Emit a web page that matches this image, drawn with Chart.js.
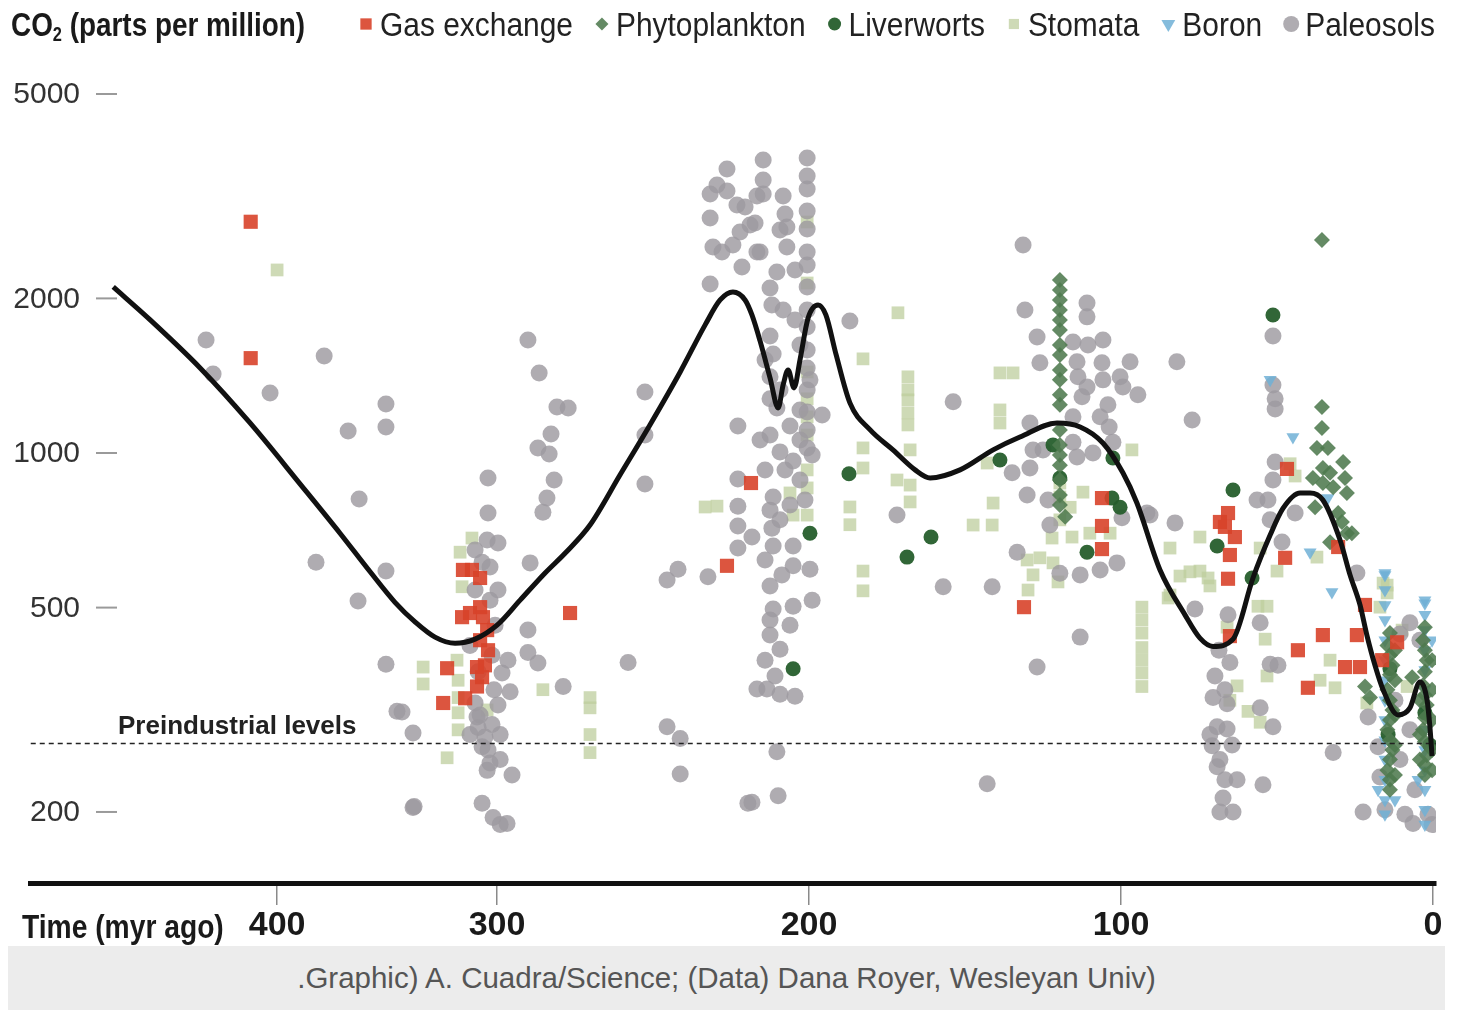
<!DOCTYPE html>
<html lang="en">
<head>
<meta charset="UTF-8">
<title>CO2 over 470 million years</title>
<script src="https://cdn.jsdelivr.net/npm/chart.js"></script>
<style>
  body { margin: 0; background: #fff; }
  #wrap { position: relative; width: 1462px; height: 1010px; }
  #credit {
    position: absolute; left: 8px; top: 946px; width: 1437px; height: 64px;
    background: #ececec; color: #555; text-align: center;
    font: 29.5px "Liberation Sans", Arial, sans-serif; line-height: 64px;
  }
</style>
</head>
<body>
<div id="wrap">
  <canvas id="co2Chart" width="1462" height="946"></canvas>
  <div id="credit">.Graphic) A. Cuadra/Science; (Data) Dana Royer, Wesleyan Univ)</div>
</div>
<script>
// [million years ago, CO2 ppm]
var gasExchange = [
  [412,2820],[412,1530],[315.5,592],[311.4,592],[307.7,571],[315.9,479],[312.3,488],[307.7,501],
  [306.4,479],[304.5,452],[307.7,432],[304.1,413],[309.1,383],[305.5,386],[322.7,381],[309.1,351],
  [324.5,326],[314.5,333],[306.8,366],[276.6,488],[226.3,603],[218.6,874],[131.1,501],[106.1,817],
  [106.1,721],[106.1,650],[68.3,734],[65.7,764],[66.7,718],[63.5,686],[65.1,633],[65.7,569],
  [65.1,440],[46.8,931],[47.4,625],[43.3,413],[40.1,349],[35.3,442],[30.4,656],[21.8,506],
  [24.4,442],[28.2,383],[23.4,383],[16.3,395],[11.5,428]
];

var phytoplankton = [
  [119.6,2172],[119.6,2077],[119.6,1986],[119.6,1899],[119.6,1816],[119.6,1736],[119.6,1623],
  [119.6,1552],[119.6,1451],[119.6,1388],[119.6,1298],[119.6,1241],[119.6,1109],[119.6,1037],
  [119.6,991],[119.6,947],[119.6,886],[119.6,828],[119.6,792],[117.9,751],
  [35.6,2599],[35.6,1229],[35.6,1119],[37.2,1023],[33.7,1023],[35.3,935],[33,915],[38.5,894],
  [35.3,874],[28.8,960],[28.2,894],[27.6,836],[37.8,784],[30.4,764],[29.2,734],[27.6,698],
  [26,698],[33,670],[32,858],
  [13.8,446],[14.6,422],[13.8,404],[13.0,386],[13.8,370],[14.6,346],[13.8,330],[13.0,316],
  [13.8,302],[14.6,289],[13.8,276],[13.0,264],[13.8,253],[14.6,241],[13.8,231],[13.8,221],
  [12.2,413],[12.2,361],[12.2,309],[12.2,270],[12.2,236],
  [2.6,458],[3.2,432],[2.6,413],[2.0,395],[2.6,375],[3.2,353],[2.6,338],[2.0,323],[2.6,305],
  [3.2,289],[2.6,274],[2.0,258],[2.6,247],[2.6,236],
  [0.3,395],[0.3,346],[0.3,302],[0.3,264],[0.3,241],
  [4.2,330],[4.2,283],[4.2,253],
  [21.8,351],[20.2,334],[6.7,366]
];

var liverworts = [
  [199.7,698],[205.1,380],[187.2,911],[168.6,627],[160.9,686],[138.8,969],[121.8,1037],
  [119.6,894],[110.9,641],[102.6,978],[102.9,817],[100.3,784],[51.3,1857],[64.1,847],
  [69.2,659],[58,571],[13.8,380],[2.6,312],[1,270],[14.4,283]
];

var stomata = [
  [400,2272],[333.6,383],[333.6,355],[311.4,683],[316.8,641],[315.9,549],[318.2,395],[317.7,361],
  [317.7,334],[317.7,312],[317.7,289],[322.7,255],[285.3,346],[270.2,334],[270.2,319],[270.2,283],
  [270.2,261],[304.5,316],[233.3,785],[229.5,788],
  [200.6,2817],[200.6,2143],[200.6,1438],[200.6,1275],[200.6,1176],[200.6,1084],[200.6,927],
  [200.6,855],[200.6,757],[206.1,836],[205.1,757],
  [182.7,1525],[182.7,1023],[182.7,935],[186.9,785],[186.9,725],[182.7,589],[182.7,539],
  [171.5,1875],[168.3,1407],[168.3,1327],[168.3,1269],[168.3,1197],[168.3,1134],[167.6,1014],
  [171.8,886],[167.6,866],[167.6,803],
  [141,799],[147.4,724],[141.3,724],[138.8,1432],[134.6,1432],[138.8,1213],[138.8,1144],[142.9,956],
  [112.2,839],[96.5,1014],[129.8,541],[122.1,683],[115.7,686],[110,698],[103.5,698],[130.1,619],
  [126,625],[121.8,611],[128.2,579],[120.2,561],
  [93.3,501],[93.3,473],[93.3,446],[93.3,418],[93.3,395],[93.3,373],[93.3,351],
  [119.6,874],[119.6,821],[116.3,784],[119.6,741],
  [84.3,653],[84.9,522],[74.7,686],[81.1,576],[77.9,587],[74.7,589],[72.1,571],[71.5,551],[84.3,529],
  [55.4,653],[50,589],[56.1,503],[53.2,503],[53.8,434],[66,458],[62.8,352],[59.3,314],[55.4,299],
  [53.2,368],[65.1,330],[45.8,953],[44.2,902],[37.2,627],[16,558],[17,501],[14.7,553],[14.7,534],
  [21.2,326],[9.9,452],[8.3,351],[33,395],[36.2,361],[31.4,349]
];

var boron = [
  [52.2,1388],[44.9,1074],[39.4,641],[32.4,536],[15.4,584],[2.6,517],[33.7,817],
  [15.4,579],[15.4,541],[15.4,506],[15.4,473],[15.4,432],[15.4,395],[15.4,361],[15.4,330],
  [15.4,302],[15.4,276],[15.4,253],[15.4,231],[15.4,211],[15.4,198],
  [2.6,510],[2.6,484],[2.6,452],[2.6,413],[2.6,378],[2.6,346],[2.6,316],[2.6,289],[2.6,264],
  [2.6,241],[2.6,221],[2.6,202],[2.6,189],
  [17.6,221],[12.2,211],[0.3,432],[4.8,231]
];

var paleosols = [
  [432.3,1660],[429.1,1425],[403.2,1309],[378.6,1545],[367.7,1104],[350.5,1246],[350.5,1124],
  [362.7,814],[382.3,613],[363.2,515],[350.5,589],[350.5,388],[345.5,314],[338.2,285],[337.7,205],
  [290.1,1660],[286.5,1432],[280.8,1229],[277.2,1224],[282.7,1089],[286.9,1023],[283.3,996],
  [281.7,886],[284,817],[285.3,767],[304.1,894],[304.1,764],[304.5,677],[299.7,668],[310,647],
  [303.2,600],[306.8,613],[299.7,541],[289.4,611],[290.1,452],[290.1,409],[286.9,390],[296.5,395],
  [298.4,373],[295.8,343],[299.7,323],[278.8,351],[343.2,313],[310,326],[309.1,306],[308.6,292],
  [305.5,280],[299,283],[306.8,268],[303.2,249],[299,253],[295.2,236],[304.5,241],[338.2,204],
  [306.8,208],[301.8,195],[299,189],[296.8,190],
  [310,541],[303.2,517],[300.9,462],[312.3,422],[302.3,404],[308.6,375],[301.4,346],[307.7,309],
  [302.3,296],[312.3,283],[304.1,264],
  [226.3,3573],[229.5,3325],[231.7,3194],[226.3,3237],[223.1,3040],[220.5,3013],[216.7,3165],
  [231.7,2868],[222.1,2694],[218.9,2779],[230.8,2519],[227.9,2463],[224.4,2541],[216.7,2463],
  [221.5,2303],[231.7,2133],
  [252.6,1315],[252.6,1084],[252.6,870],[222.8,1129],[222.8,890],[222.8,788],[222.8,721],
  [218.3,686],[222.8,653],[242,594],[245.5,566],[232.4,574],[258,391],[245.5,293],[241.3,278],
  [241.3,237],[219.6,208],[216.7,347],
  [214.7,3720],[214.7,3401],[214.7,3194],[208.3,3165],[217.3,2804],[207.7,2920],[207.1,2755],
  [215.7,2463],[207.1,2519],[210.3,2252],[211.9,1942],[208.3,1899],[212.5,1690],[211.5,1559],
  [212.5,1407],[212.5,1275],[210.3,1224],[206.1,1129],[212.5,1084],[209.3,1005],[205.1,965],
  [211.5,821],[212.5,774],[211.9,714],[211.5,659],[205.1,659],[205.1,603],[199.7,594],[212.5,551],
  [211.5,497],[205.1,503],[199,517],[212.5,442],[209.3,415],[210.9,368],[213.5,347],[209.3,339],
  [204.5,336],[210.3,262],[209.9,215],[218.3,209],[186.9,1808],
  [200.6,3753],[200.6,3462],[200.6,3267],[200.6,2960],[200.6,2730],[200.6,2463],[200.6,2323],
  [200.6,2105],[200.6,1899],[200.6,1759],[200.6,1587],[200.6,1464],[200.6,1327],[200.6,1202],
  [200.6,1109],[200.6,1023],[195.8,1186],
  [212.5,2096],[214.1,1518],[209.3,1327],[207.7,927],[202.9,886],[214.1,927],[215.7,1060],
  [202.9,1060],[206.1,792],[209.3,741],[214.1,619],[208.7,579],[212.5,473],[206.1,462],[214.1,395],
  [202.9,1623],[199.7,1388],[202.9,1213],[199,991],[201.3,810],[209.3,2718],[204.5,2272],[204.5,1816],
  [131.4,2541],[130.8,1899],[126.9,1682],[126,1498],[110.9,1960],[110.9,1841],[115.4,1645],
  [110.6,1623],[105.8,1660],[114.1,1505],[106.1,1498],[97.1,1505],[113.8,1407],[110.9,1345],
  [105.8,1388],[100.3,1407],[99.4,1345],[94.6,1298],[112.5,1287],[106.7,1176],[104.2,1241],
  [103.8,1124],[102.6,1049],[115.4,1176],[129.2,1144],[128.2,1014],[125,1014],[129.2,935],
  [134.9,915],[130.1,828],[123.4,810],[122.8,724],[115.4,1049],[114.1,982],[109,1000],[153.8,1258],
  [171.8,757],[157,549],[141.3,549],[133.3,641],[113.1,579],[106.7,592],[101.3,611],[119.6,583],
  [91.7,764],[99.7,748],[113.1,438],[126.9,383],[82.7,731],[142.9,227],
  [51.3,1690],[82.1,1505],[77.2,1160],[51.3,1357],[50.6,1275],[50.6,1218],[50.6,960],[51.3,886],
  [56.4,810],[52.9,810],[52.2,741],[90.7,757],[76.3,497],[65.7,484],[55.4,467],[65.1,391],
  [52.2,388],[49.7,386],[69.9,368],[70.5,334],[66,325],[69.2,293],[66,290],[70.8,269],[68.3,253],
  [69.2,245],[62.8,231],[54.5,226],[67.3,213],[68.3,200],[64.1,200],[51.3,293],[55.4,319],
  [68.6,413],[66.7,346],[71.5,283],[64.4,270],[66.7,231],
  [44.2,764],[24.4,584],[48.4,671],[20.8,306],[32,261],[22.4,200],[9,198],[6.4,190],[5.8,221],
  [7.4,467],[1.6,198],[17,234],[17.6,268],[7.4,289],[10.6,444],[4.2,432],[0.3,189],[12.2,330],
  [15.4,202],[10.6,253]
];

// smoothed trend
var trendLine = [
  [474.5,2105],[457.7,1816],[435,1464],[412.3,1144],[389.5,870],[371.4,698],[357.7,587],[346.4,512],
  [337.3,469],[328.2,438],[319.1,426],[310,434],[300,462],[292.6,517],[284.6,584],[278.2,638],
  [270.2,724],[260.6,906],[251,1134],[241.3,1438],[233.3,1776],[228.5,1986],[224.4,2058],
  [220.5,1986],[218.3,1857],[215.7,1653],[212.5,1401],[209.9,1224],[208.3,1357],[206.7,1451],
  [204.8,1339],[202.9,1518],[200.3,1832],[197.1,1942],[194.6,1857],[191.3,1552],[186.9,1252],
  [180.4,1109],[173.1,1014],[166,927],[161.2,894],[151.6,927],[141,1014],[132.4,1074],[120.5,1144],
  [113.1,1124],[105.8,1046],[99.4,915],[94.9,799],[87.5,592],[79.5,484],[74.7,436],[70.5,420],
  [64.1,434],[57.7,571],[52.2,692],[48.1,780],[42.6,836],[39.4,836],[35.3,810],[29.8,677],
  [26.6,579],[23.4,506],[21.2,442],[18.6,386],[16,346],[11.2,309],[7.4,319],[4.2,358],[1.9,330],
  [1,293],[0.3,257]
];

var preindustrialPpm = 272;
var ageTicks = [400, 300, 200, 100, 0];
var ppmTicks = [5000, 2000, 1000, 500, 200];
var legendOrder = ['Gas exchange', 'Phytoplankton', 'Liverworts', 'Stomata', 'Boron', 'Paleosols'];

var SANS = '"Liberation Sans", Arial, sans-serif';

// the original squeezes the 300-400+ myr stretch of the time axis
function axisPos(myr) { return myr <= 300 ? myr : 300 + (myr - 300) * 0.705; }
function axisAge(pos) { return pos <= 300 ? pos : 300 + (pos - 300) / 0.705; }
function toPoints(rows) {
  return rows.map(function (r) { return { x: axisPos(r[0]), y: r[1] }; });
}

function series(label, rows, color, style, radius, order) {
  return {
    type: 'scatter', label: label, data: toPoints(rows),
    backgroundColor: color, pointStyle: style, pointRadius: radius,
    pointRotation: style === 'triangle' ? 180 : 0,
    borderWidth: 0, pointBorderWidth: 0, order: order
  };
}

// no condensed face installed, so squeeze the regular one horizontally
function narrowText(ctx, text, x, y, sx) {
  ctx.save();
  ctx.translate(x, y);
  ctx.scale(sx, 1);
  ctx.fillText(text, 0, 0);
  ctx.restore();
  return ctx.measureText(text).width * sx;
}

var legendRadius = { 'Gas exchange': 8, 'Phytoplankton': 6.5, 'Liverworts': 6.5, 'Stomata': 7.2, 'Boron': 8, 'Paleosols': 8 };

var textPlugin = {
  id: 'chartText',
  afterDraw: function (chart) {
    var ctx = chart.ctx;
    var y = chart.scales.y;
    var area = chart.chartArea;
    ctx.save();

    // header: axis title + legend
    ctx.textBaseline = 'alphabetic';
    ctx.textAlign = 'left';
    ctx.fillStyle = '#1a1a1a';
    var x = 11;
    ctx.font = 'bold 34px ' + SANS;
    x += narrowText(ctx, 'CO', x, 36, 0.82);
    ctx.font = 'bold 20px ' + SANS;
    x += narrowText(ctx, '2', x, 41, 0.82);
    ctx.font = 'bold 34px ' + SANS;
    narrowText(ctx, ' (parts per million)', x, 36, 0.82);

    ctx.font = '34px ' + SANS;
    x = 360;
    legendOrder.forEach(function (label) {
      var ds = chart.data.datasets.find(function (d) { return d.label === label; });
      ctx.fillStyle = ds.backgroundColor;
      Chart.helpers.drawPoint(ctx, {
        pointStyle: ds.pointStyle, rotation: ds.pointRotation,
        radius: legendRadius[label], borderWidth: 0
      }, x + 6, 24);
      ctx.fillStyle = '#222';
      var w = narrowText(ctx, label, x + 20, 36, 0.88);
      x += 20 + w + 23;
    });

    // y tick labels with their little dashes
    ctx.font = '30px ' + SANS;
    ctx.textAlign = 'right';
    ctx.textBaseline = 'middle';
    ctx.strokeStyle = '#9a9a9a';
    ctx.lineWidth = 2;
    ppmTicks.forEach(function (v) {
      var py = y.getPixelForValue(v);
      ctx.fillStyle = '#333';
      ctx.fillText(String(v), 80, py + 1);
      ctx.beginPath();
      ctx.moveTo(96, py);
      ctx.lineTo(117, py);
      ctx.stroke();
    });

    // preindustrial label
    ctx.textAlign = 'left';
    ctx.textBaseline = 'alphabetic';
    ctx.font = 'bold 26px ' + SANS;
    ctx.fillStyle = '#222';
    ctx.fillText('Preindustrial levels', 118, y.getPixelForValue(preindustrialPpm) - 9);

    // x axis caption
    ctx.font = 'bold 34px ' + SANS;
    ctx.fillStyle = '#1a1a1a';
    narrowText(ctx, 'Time (myr ago)', 22, area.bottom + 55, 0.83);
    ctx.restore();
  }
};

new Chart(document.getElementById('co2Chart'), {
  type: 'scatter',
  data: {
    datasets: [
      {
        type: 'line', label: 'Trend', data: toPoints(trendLine),
        borderColor: '#111', borderWidth: 5, pointRadius: 0,
        cubicInterpolationMode: 'monotone', fill: false, order: 0
      },
      {
        type: 'line', label: 'Preindustrial',
        data: toPoints([[512, preindustrialPpm], [-0.9, preindustrialPpm]]),
        borderColor: '#222', borderWidth: 1.5, borderDash: [5, 4],
        pointRadius: 0, fill: false, order: 1
      },
      series('Gas exchange', gasExchange, 'rgba(216,66,42,0.9)', 'rect', 10, 2),
      series('Phytoplankton', phytoplankton, 'rgba(78,122,78,0.88)', 'rectRot', 8, 3),
      series('Liverworts', liverworts, 'rgba(38,94,44,0.95)', 'circle', 7.5, 4),
      series('Boron', boron, 'rgba(112,176,214,0.85)', 'triangle', 7.5, 5),
      series('Paleosols', paleosols, 'rgba(158,154,160,0.82)', 'circle', 8.5, 6),
      series('Stomata', stomata, 'rgba(190,206,158,0.75)', 'rect', 9, 7)
    ]
  },
  options: {
    responsive: false,
    animation: false,
    events: [],
    layout: { padding: { left: 30, right: 26, top: 60, bottom: 0 } },
    plugins: {
      legend: { display: false },
      tooltip: { enabled: false }
    },
    scales: {
      x: {
        type: 'linear',
        reverse: true,
        min: -0.96,
        max: 449.7,
        afterBuildTicks: function (axis) {
          axis.ticks = ageTicks.map(function (v) { return { value: axisPos(v) }; });
        },
        afterFit: function (axis) { axis.height = 63; },
        ticks: {
          autoSkip: false, maxRotation: 0, padding: 0, color: '#1a1a1a',
          font: { family: SANS, size: 34, weight: 'bold', lineHeight: 1.2 },
          callback: function (v) { return Math.round(axisAge(v)); }
        },
        grid: { drawOnChartArea: false, drawTicks: true, tickLength: 22, color: '#8a8a8a', lineWidth: 1.5 },
        border: { display: true, color: '#111', width: 5 }
      },
      y: {
        type: 'logarithmic',
        display: false,
        min: 145.45,
        max: 5824
      }
    }
  },
  plugins: [textPlugin]
});
</script>
</body>
</html>
